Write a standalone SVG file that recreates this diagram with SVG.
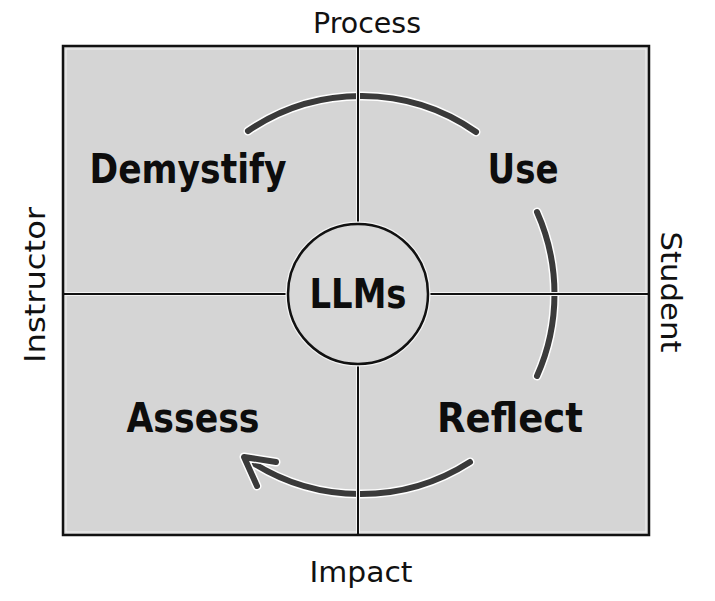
<svg xmlns="http://www.w3.org/2000/svg" width="715" height="601" viewBox="0 0 715 601">
<style>
.lbl{font-family:"DejaVu Sans","Liberation Sans",sans-serif;font-size:28px;fill:#111}
.big{font-family:"DejaVu Sans","Liberation Sans",sans-serif;font-size:40px;font-weight:bold;fill:#0d0d0d}
.halo{fill:none;stroke:#ffffff;stroke-width:9;stroke-linecap:round;stroke-linejoin:round}
.arc{fill:none;stroke:#3a3a3a;stroke-width:6;stroke-linecap:round;stroke-linejoin:round}
.ln{stroke:#111;stroke-width:2}
.lnh{stroke:#f4f4f4;stroke-width:4}
</style>
<rect width="715" height="601" fill="#ffffff"/>
<g id="frame">
<rect x="63" y="46" width="586" height="489" fill="#d5d5d5" stroke="#111" stroke-width="2.5"/>
<rect x="66" y="49" width="580" height="483" fill="none" stroke="#f2f2f2" stroke-width="1"/>
</g>
<g id="connectors">
<path class="halo" d="M248,131 A201,201 0 0 1 476,132"/>
<path class="arc" d="M248,131 A201,201 0 0 1 476,132"/>
<path class="halo" d="M537,212 A201,201 0 0 1 537,376"/>
<path class="arc" d="M537,212 A201,201 0 0 1 537,376"/>
<path class="halo" d="M470,462 A202,202 0 0 1 250,461"/>
<path class="arc" d="M470,462 A202,202 0 0 1 250,461"/>
<path class="halo" d="M276,462 L244,457 L257,486"/>
<path class="arc" d="M276,462 L244,457 L257,486"/>
</g>
<g id="dividers">
<line class="lnh" x1="358" y1="48" x2="358" y2="533"/>
<line class="lnh" x1="65" y1="294" x2="647" y2="294"/>
<line class="ln" x1="358" y1="46" x2="358" y2="535"/>
<line class="ln" x1="63" y1="294" x2="649" y2="294"/>
</g>
<g id="axis-labels">
<text class="lbl" x="367" y="33" text-anchor="middle" textLength="108" lengthAdjust="spacingAndGlyphs">Process</text>
<text class="lbl" x="361" y="582" text-anchor="middle" textLength="103" lengthAdjust="spacingAndGlyphs">Impact</text>
<text class="lbl" transform="translate(45,285) rotate(-90)" text-anchor="middle" textLength="156" lengthAdjust="spacingAndGlyphs">Instructor</text>
<text class="lbl" transform="translate(661,292) rotate(90)" text-anchor="middle" textLength="121" lengthAdjust="spacingAndGlyphs">Student</text>
</g>
<g id="llms">
<circle cx="358" cy="294" r="71.5" fill="none" stroke="#f4f4f4" stroke-width="2"/>
<circle cx="358" cy="294" r="70" fill="#d8d8d8" stroke="#111" stroke-width="2.5"/>
<text class="big" x="358" y="308" text-anchor="middle" textLength="97" lengthAdjust="spacingAndGlyphs">LLMs</text>
</g>
<g id="demystify"><text class="big" x="188" y="183" text-anchor="middle" textLength="197" lengthAdjust="spacingAndGlyphs">Demystify</text></g>
<g id="use"><text class="big" x="523" y="183" text-anchor="middle" textLength="71" lengthAdjust="spacingAndGlyphs">Use</text></g>
<g id="reflect"><text class="big" x="510" y="432" text-anchor="middle" textLength="146" lengthAdjust="spacingAndGlyphs">Reflect</text></g>
<g id="assess"><text class="big" x="193" y="432" text-anchor="middle" textLength="133" lengthAdjust="spacingAndGlyphs">Assess</text></g>
</svg>
